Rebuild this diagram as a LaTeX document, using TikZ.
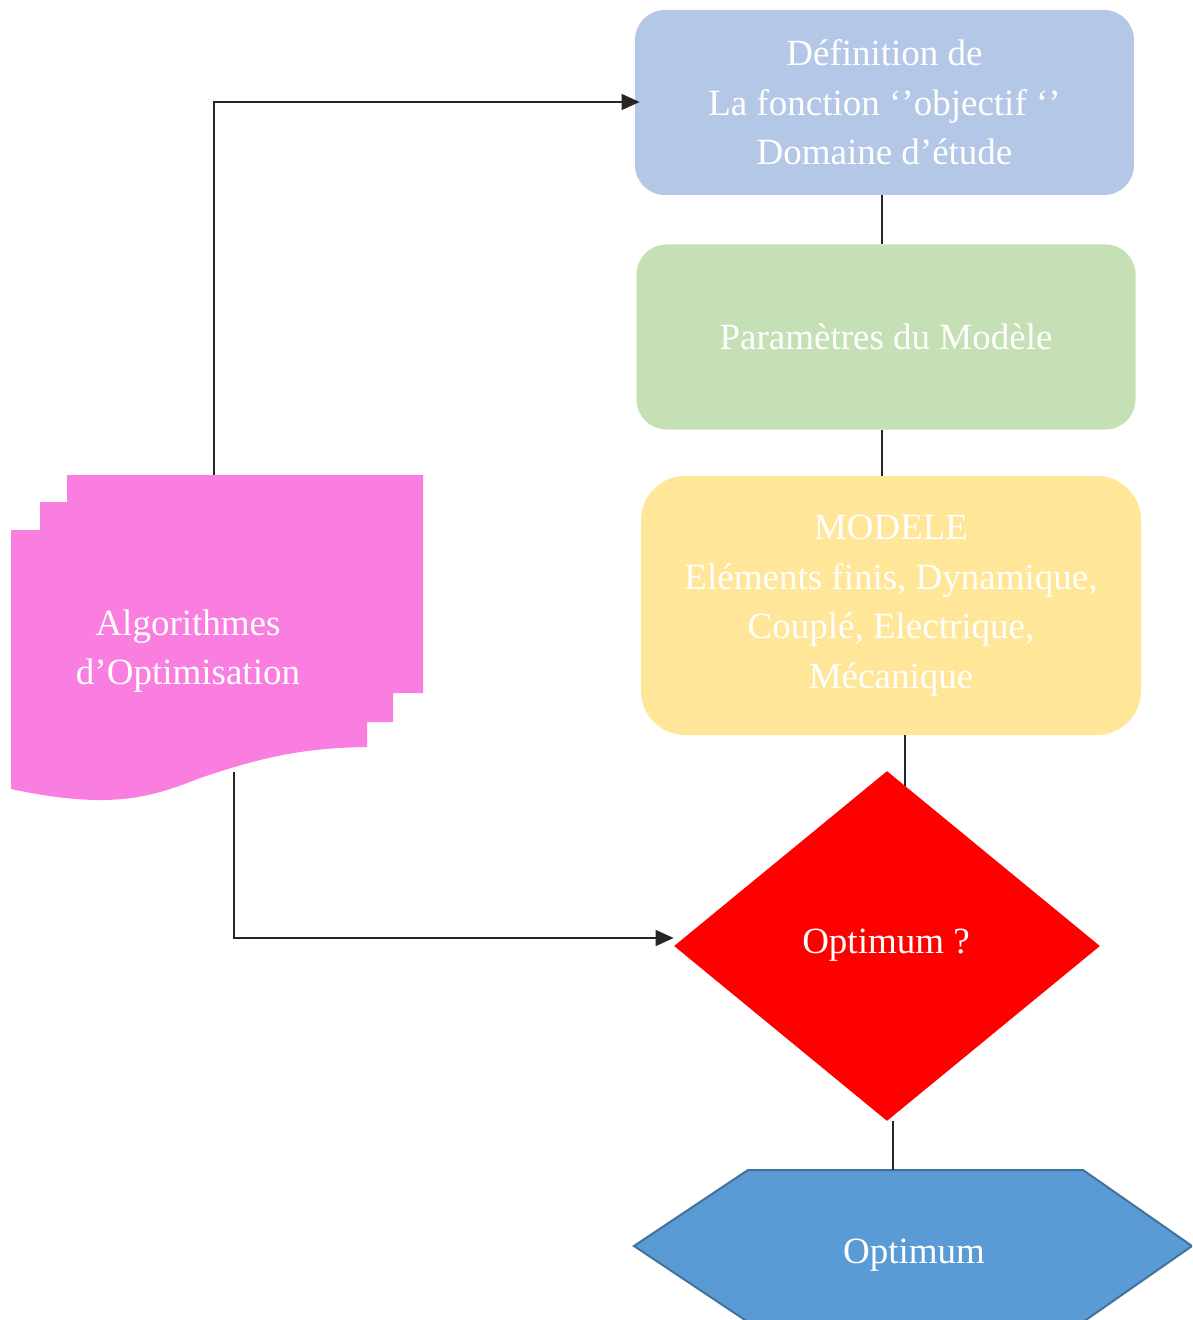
\documentclass[tikz,border=0pt]{standalone}
\usepackage{fontspec}
\setmainfont{Liberation Serif}
\usetikzlibrary{shapes.geometric,arrows.meta}
\definecolor{boxblue}{RGB}{180,199,231}
\definecolor{boxgreen}{RGB}{197,224,180}
\definecolor{boxyellow}{RGB}{255,230,153}
\definecolor{decred}{RGB}{255,0,0}
\definecolor{hexblue}{RGB}{91,155,213}
\definecolor{hexedge}{RGB}{65,113,156}
\definecolor{docpink}{RGB}{249,126,224}
\tikzset{
  txt/.style={text=white, align=center, font=\fontsize{18.5}{24.75}\selectfont},
  procbox/.style={txt, rounded corners=15pt, minimum width=249.5pt, minimum height=92.5pt, inner sep=0pt},
  link/.style={draw=black!85, line width=0.65pt},
  arr/.style={link, -{Triangle[length=9pt,width=8pt]}}
}
\begin{document}
\begin{tikzpicture}[x=0.5pt,y=-0.5pt]
\useasboundingbox (0,0) rectangle (1192,1320);
\clip (0,0) rectangle (1192,1320);

% boxes
\node[procbox, fill=boxblue] (def) at (884.5,102.5) {Définition de\\La fonction ‘’objectif ‘’\\Domaine d’étude};
\node[procbox, fill=boxgreen] (param) at (886,337) {Paramètres du Modèle};
\node[procbox, fill=boxyellow, rounded corners=22pt, minimum width=250pt, minimum height=129.5pt] (model) at (891,605.5)
  {MODELE\\Eléments finis, Dynamique,\\Couplé, Electrique,\\Mécanique};

% decision
\node[diamond, fill=decred, inner sep=0pt, minimum width=213pt, minimum height=175pt] (opt) at (887,946) {};
\node[txt] (optlabel) at (886,945) {Optimum ?};

% terminal hexagon
\path[fill=hexblue, draw=hexedge, line width=1pt]
  (748,1170) -- (1083,1170) -- (1192,1246) -- (1083,1322) -- (748,1322) -- (634,1246) -- cycle;
\node[txt] (res) at (914,1255) {Optimum};

% multi-document
\path[fill=docpink]
  (11,530) -- (40,530) -- (40,502) -- (67,502) -- (67,475) -- (423,475) -- (423,693)
  -- (393,693) -- (393,722) -- (367,722) -- (367,747)
  .. controls (300,748) and (260,758) .. (200,778)
  .. controls (150,798) and (110,810) .. (11,789) -- cycle;
\node[txt] (algo) at (188,651) {Algorithmes\\d’Optimisation};
\coordinate (algotop) at (214,475);
\coordinate (algobot) at (234,772);

% connectors
\draw[link] (def.south -| 882,0) -- (param.north -| 882,0);
\draw[link] (param.south -| 882,0) -- (model.north -| 882,0);
\coordinate (optin) at (905,786);
\draw[link] (model.south -| 905,0) -- (optin);
\coordinate (resin) at (893,1170);
\draw[link] (opt.south -| 893,0) -- (resin);

\draw[arr] (algotop) |- ([xshift=2.5pt]def.west |- 0,102);
\draw[arr] (algobot) |- (opt.west |- 0,938);
\end{tikzpicture}
\end{document}
